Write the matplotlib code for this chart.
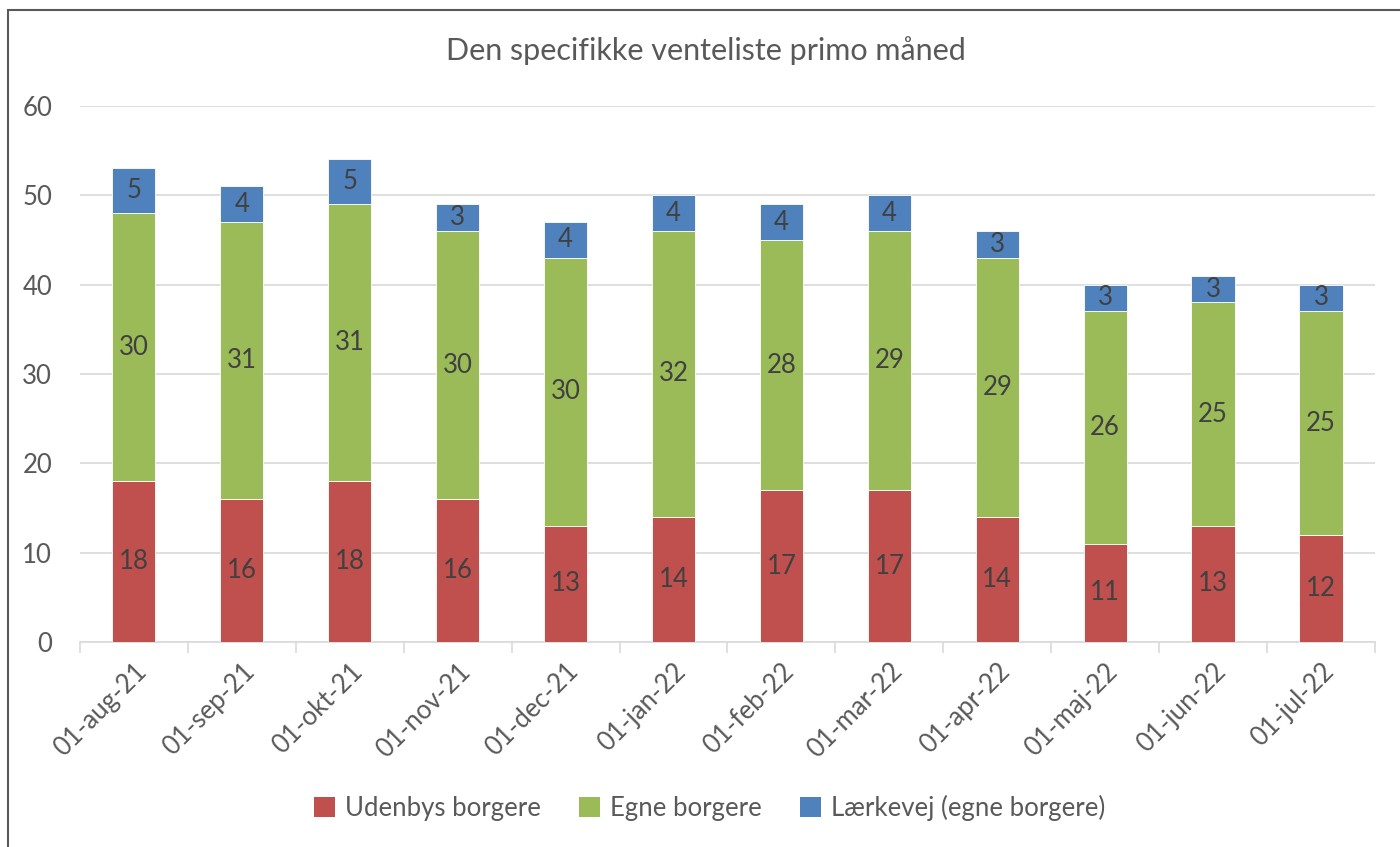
import matplotlib
matplotlib.use("Agg")
import matplotlib.pyplot as plt
from matplotlib.patches import Rectangle, Patch
import numpy as np

months = ["01-aug-21", "01-sep-21", "01-okt-21", "01-nov-21", "01-dec-21", "01-jan-22",
          "01-feb-22", "01-mar-22", "01-apr-22", "01-maj-22", "01-jun-22", "01-jul-22"]
udenbys = [18, 16, 18, 16, 13, 14, 17, 17, 14, 11, 13, 12]
egne = [30, 31, 31, 30, 30, 32, 28, 29, 29, 26, 25, 25]
laerkevej = [5, 4, 5, 3, 4, 4, 4, 4, 3, 3, 3, 3]
series_names = ["Udenbys borgere", "Egne borgere", "Lærkevej (egne borgere)"]
colors = ["#C0504D", "#9BBB59", "#4F81BD"]

plt.rcParams["font.family"] = ["Lato", "DejaVu Sans"]
txt = "#595959"

fig = plt.figure(figsize=(14, 8.47), dpi=100)
ax = fig.add_axes([0.0571, 0.242, 0.925, 0.633])

x = np.arange(len(months))
bottom = np.zeros(len(months))
for vals, col in zip([udenbys, egne, laerkevej], colors):
    v = np.array(vals, dtype=float)
    ax.bar(x, v, 0.4, bottom=bottom, color=col, edgecolor="white", linewidth=0.6, zorder=3)
    for xi, b, h in zip(x, bottom, v):
        ax.text(xi, b + h / 2, str(int(h)), ha="center", va="center",
                fontsize=18.5, color="#404040", zorder=4)
    bottom += v

ax.set_xlim(-0.5, len(months) - 0.5)
ax.set_ylim(0, 60)
ax.set_yticks(range(0, 61, 10))
ax.yaxis.grid(True, color="#D9D9D9", linewidth=1.2, zorder=0)
ax.set_axisbelow(True)
for s in ["top", "right", "left"]:
    ax.spines[s].set_visible(False)
ax.spines["bottom"].set_color("#D9D9D9")
ax.spines["bottom"].set_linewidth(1.2)
ax.tick_params(axis="y", length=0, labelsize=18.5, labelcolor=txt, pad=20)

ax.set_xticks(x)
ax.set_xticklabels(months, rotation=45, ha="right", va="top", rotation_mode="anchor",
                   fontsize=18.5, color=txt)
ax.tick_params(axis="x", length=0, pad=12)
ax.set_xticks(np.arange(-0.5, len(months), 1), minor=True)
ax.tick_params(axis="x", which="minor", length=8, width=1.2, color="#D9D9D9")

fig.text(0.504, 0.94, "Den specifikke venteliste primo måned", ha="center", va="center",
         fontsize=22, color=txt)

handles = [Patch(facecolor=c, label=n) for c, n in zip(colors, series_names)]
fig.legend(handles=handles, loc="center", bbox_to_anchor=(0.507, 0.046), ncol=3, frameon=False,
           fontsize=18.5, labelcolor=txt, handlelength=0.8, handleheight=0.8,
           columnspacing=1.5, handletextpad=0.4)

fig.patches.append(Rectangle((8 / 1400, -0.1), 1.5, 1 - 10 / 847 + 0.1, transform=fig.transFigure,
                             fill=False, edgecolor="#595959", linewidth=1.5))

fig.savefig("out.png", dpi=100, facecolor="white")
